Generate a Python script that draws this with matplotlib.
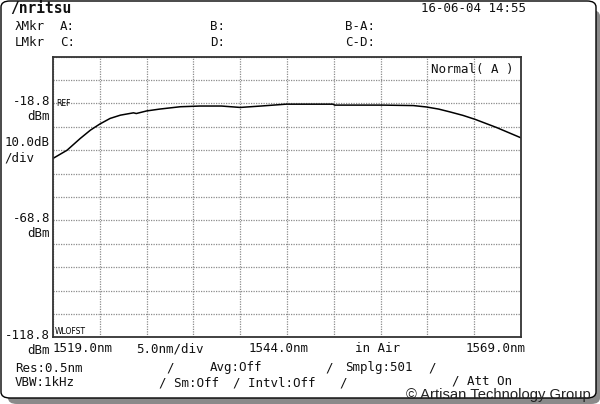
import numpy as np
import matplotlib
matplotlib.use("Agg")
import matplotlib.pyplot as plt
from matplotlib.patches import FancyBboxPatch

# trace (nm, dBm)
wavelength = [1519.0, 1520.5, 1521.9, 1523.0, 1524.0, 1525.1, 1526.2, 1527.6, 1527.9,
              1529.0, 1530.4, 1532.6, 1534.7, 1537.0, 1539.0, 1541.2, 1543.9, 1548.9,
              1549.1, 1554.2, 1557.5, 1558.9, 1560.2, 1561.4, 1562.8, 1564.1, 1566.4, 1569.0]
power = [-42.3, -38.8, -33.8, -30.2, -27.6, -25.2, -23.8, -22.8, -23.1,
         -22.0, -21.2, -20.2, -19.9, -19.9, -20.5, -19.9, -19.1, -19.1,
         -19.5, -19.5, -19.7, -20.3, -21.2, -22.4, -23.9, -25.6, -29.1, -33.5]

x_start, x_stop, x_div = 1519.0, 1569.0, 5.0
ref_level, y_div, n_ydiv = -18.8, 10.0, 12
level_labels = [-18.8, -68.8, -118.8]
wl_labels = ["1519.0nm", "5.0nm/div", "1544.0nm", "in Air", "1569.0nm"]

W, H = 600, 404
fig = plt.figure(figsize=(W / 100, H / 100), dpi=100)
mono = ["DejaVu Sans Mono", "DejaVu Sans"]

def fx(px):
    return px / W

def fy(py):
    return 1 - py / H

def ftext(px, py, s, size=9, ha="left", **kw):
    fig.text(fx(px), fy(py), s, fontsize=size, ha=ha, va="center", family=mono,
             color="#111111", **kw)

# outer screen frame with its shadow
shadow = FancyBboxPatch((fx(8), fy(404)), fx(592), fy(10) - fy(404),
                        boxstyle="round,pad=0,rounding_size=0.015", transform=fig.transFigure,
                        facecolor="#8a8a8a", edgecolor="none", zorder=0)
fig.patches.append(shadow)
frame = FancyBboxPatch((fx(1), fy(398)), fx(595), fy(1) - fy(398),
                       boxstyle="round,pad=0,rounding_size=0.015", transform=fig.transFigure,
                       facecolor="white", edgecolor="black", linewidth=1.0, zorder=1)
fig.patches.append(frame)

ax = fig.add_axes([fx(53), fy(337.3), fx(468), fy(56.7) - fy(337.3)])
ax.set_zorder(2)
y_bottom = ref_level - 10 * y_div
y_top = y_bottom + n_ydiv * y_div
ax.set_xlim(x_start, x_stop)
ax.set_ylim(y_bottom, y_top)
ax.set_xticks(np.arange(x_start, x_stop + 0.1, x_div))
ax.set_yticks(np.arange(y_bottom, y_top + 0.1, y_div))
ax.tick_params(length=0, labelbottom=False, labelleft=False)
ax.grid(True, color="#8c8c8c", linestyle=(0, (1, 1)), linewidth=0.9)
for s in ax.spines.values():
    s.set_linewidth(1.3)
    s.set_color("#333333")
ax.plot(wavelength, power, color="black", linewidth=1.1)

ax.text(0.008, ref_level, "REF", transform=ax.get_yaxis_transform(), fontsize=5.5,
        va="center", family="DejaVu Sans")
ax.text(0.003, y_bottom + 2.5, "WLOFST", transform=ax.get_yaxis_transform(), fontsize=5.5,
        va="center", family="DejaVu Sans")
ax.text(0.985, 0.955, "Normal( A )", transform=ax.transAxes, fontsize=9, ha="right",
        va="center", family=mono, color="#111111")

# level labels left of the graticule
for lv in level_labels:
    py = 337.3 - (lv - y_bottom) / (y_top - y_bottom) * (337.3 - 56.7)
    ftext(50, py - 2, "%.1f" % lv, ha="right")
    ftext(50, py + 13, "dBm", ha="right")
ftext(50, 143, "10.0dB", ha="right")
ftext(4, 158, "/div")

# header
ftext(10, 9, "/nritsu", size=10.5, weight="bold")
ftext(421, 9, "16-06-04 14:55")
ftext(15, 27, "\u03bbMkr")
ftext(60, 27, "A:")
ftext(210, 27, "B:")
ftext(345, 27, "B-A:")
ftext(15, 42, "LMkr")
ftext(60, 42, "C:")
ftext(210, 42, "D:")
ftext(345, 42, "C-D:")

# wavelength row
for px, s in zip([53, 136, 249, 355, 466], wl_labels):
    ftext(px, 349, s)

# settings rows
ftext(15, 368, "Res:0.5nm")
ftext(166, 368, "/")
ftext(210, 368, "Avg:Off")
ftext(325, 368, "/")
ftext(345, 368, "Smplg:501")
ftext(428, 368, "/")
ftext(15, 383, "VBW:1kHz")
ftext(159, 383, "/ Sm:Off")
ftext(233, 383, "/ Intvl:Off")
ftext(339, 383, "/")
ftext(452, 381, "/ Att On")

fig.text(fx(406), fy(394.5), "\u00a9 Artisan Technology Group", fontsize=10.6,
         family="Liberation Sans", va="center", ha="left", color="#222222")

fig.savefig("out.png", dpi=100)
